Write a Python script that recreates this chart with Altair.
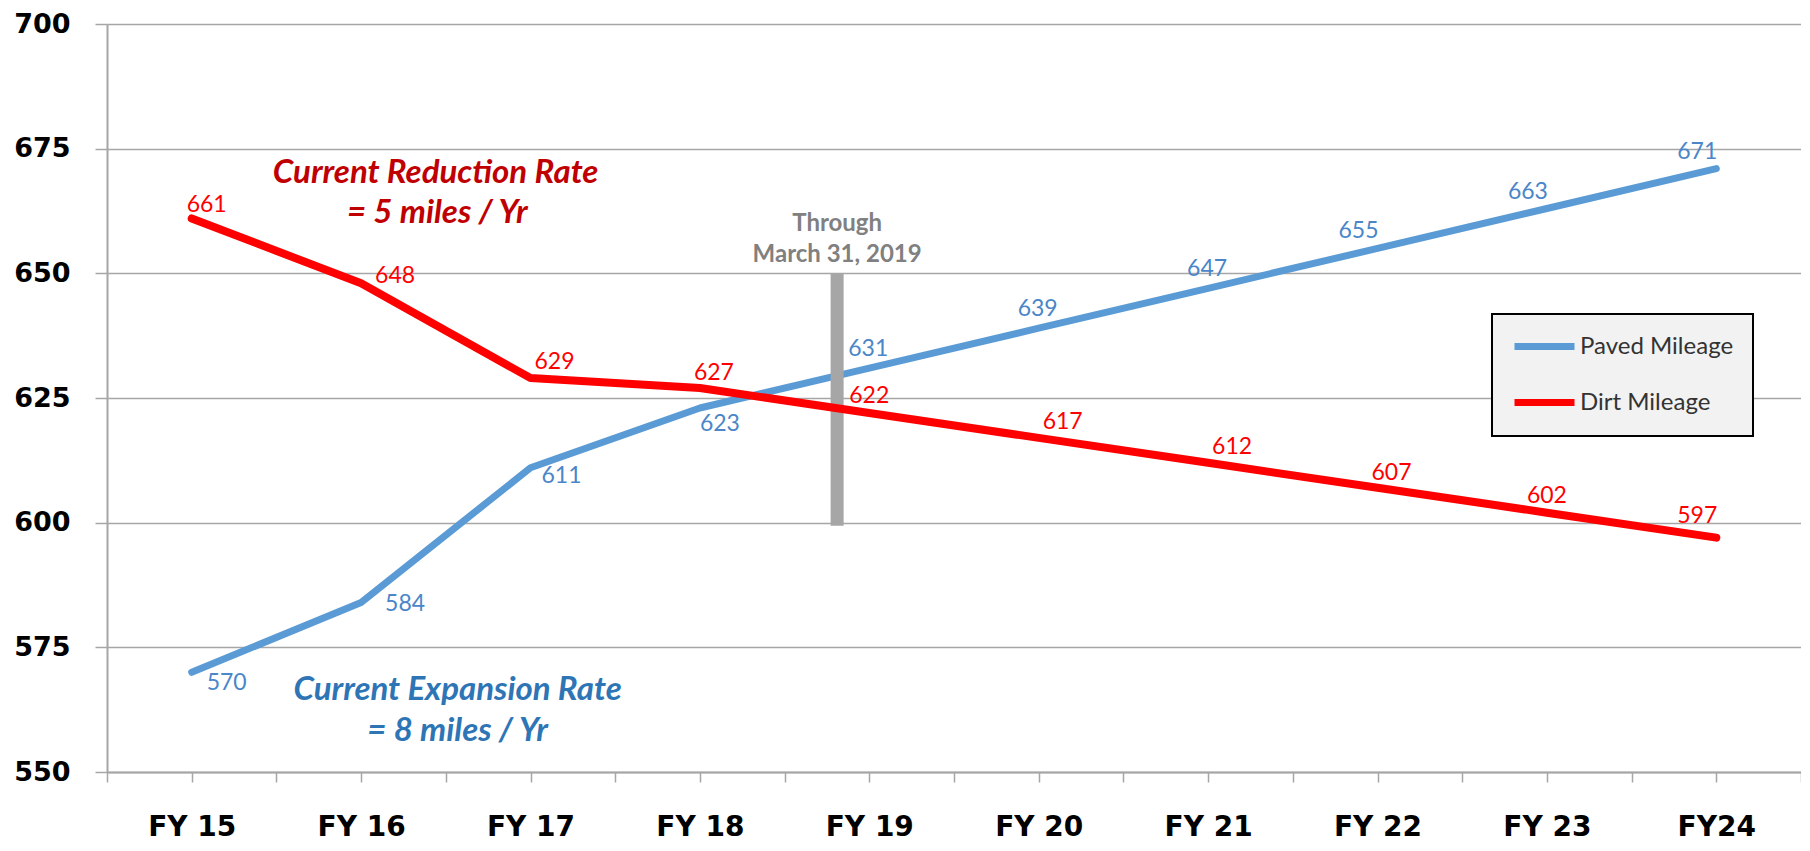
import json
import altair as alt
import pandas as pd

categories = ["FY 15", "FY 16", "FY 17", "FY 18", "FY 19", "FY 20", "FY 21", "FY 22", "FY 23", "FY24"]
paved = [570, 584, 611, 623, 631, 639, 647, 655, 663, 671]
dirt = [661, 648, 629, 627, 622, 617, 612, 607, 602, 597]
series_names = ["Paved Mileage", "Dirt Mileage"]
y_ticks = [550, 575, 600, 625, 650, 675, 700]

# marker of "Through March 31, 2019" (position on the category axis, value range)
marker_x = [3.81]
marker_top = [650]
marker_bottom = [599.4]
marker_text = ["Through", "March 31, 2019"]
marker_text_y = [659.9, 653.7]

red_note = ["Current Reduction Rate", "= 5 miles / Yr"]
red_note_x = [1.44, 1.45]
red_note_y = [670.1, 662.1]
blue_note = ["Current Expansion Rate", "= 8 miles / Yr"]
blue_note_x = [1.57, 1.57]
blue_note_y = [566.4, 558.3]

BLUE = "#5B9BD5"
RED = "#FF0000"
GRID = "#A6A6A6"

idx = list(range(len(categories)))
df_p = pd.DataFrame({"idx": idx, "cat": categories, "value": paved, "series": series_names[0]})
df_d = pd.DataFrame({"idx": idx, "cat": categories, "value": dirt, "series": series_names[1]})

label_expr = "datum.value % 1 == 0 ? " + json.dumps(categories) + "[datum.value] : ''"

x_enc = alt.X(
    "idx:Q",
    scale=alt.Scale(domain=[-0.5, 9.5], nice=False, zero=False),
    axis=alt.Axis(
        values=[i * 0.5 - 0.5 for i in range(21)],
        labelExpr=label_expr,
        grid=False,
        title=None,
        tickSize=10,
        tickColor=GRID,
        tickWidth=1.5,
        domainColor=GRID,
        domainWidth=2,
        labelFont="DejaVu Sans",
        labelFontWeight="bold",
        labelFontSize=28,
        labelColor="#000000",
        labelPadding=31,
        labelOverlap=False,
        labelFlush=False,
    ),
)
y_enc = alt.Y(
    "value:Q",
    scale=alt.Scale(domain=[550, 700], nice=False, zero=False),
    axis=alt.Axis(
        values=y_ticks,
        grid=True,
        gridColor=GRID,
        gridWidth=1.5,
        title=None,
        tickSize=12,
        tickColor=GRID,
        tickWidth=1.5,
        domainColor=GRID,
        domainWidth=2,
        labelFont="DejaVu Sans",
        labelFontWeight="bold",
        labelFontSize=27,
        labelColor="#000000",
        labelPadding=25,
    ),
)

color_enc = alt.Color(
    "series:N",
    scale=alt.Scale(domain=series_names, range=[BLUE, RED]),
    legend=alt.Legend(
        title=None,
        orient="none",
        legendX=1385,
        legendY=290,
        fillColor="#F2F2F2",
        strokeColor="#000000",
        padding=19,
        symbolType="M-1,0H5",
        symbolSize=400,
        symbolStrokeWidth=7,
        labelFont="Lato",
        labelFontSize=24,
        labelColor="#333333",
        labelOffset=42,
        rowPadding=27,
        cornerRadius=0,
    ),
)

base_p = alt.Chart(df_p)
base_d = alt.Chart(df_d)

bar_df = pd.DataFrame({"x": marker_x, "top": marker_top, "bottom": marker_bottom})
bar = alt.Chart(bar_df).mark_rule(color=GRID, strokeWidth=13).encode(
    x=alt.X("x:Q"), y=alt.Y("top:Q"), y2="bottom:Q"
)
through_df = pd.DataFrame({"t": marker_text, "x": marker_x * 2, "y": marker_text_y})
through = alt.Chart(through_df).mark_text(
    font="Lato", fontWeight="bold", fontSize=24, color="#808080", align="center", baseline="middle"
).encode(x="x:Q", y="y:Q", text="t:N")

line_p = base_p.mark_line(strokeWidth=7, strokeCap="round", strokeJoin="round").encode(
    x=x_enc, y=y_enc, color=color_enc
)
line_d = base_d.mark_line(strokeWidth=8, strokeCap="round", strokeJoin="round").encode(
    x="idx:Q", y="value:Q", color=alt.Color("series:N")
)

lab_style = dict(font="Lato", fontSize=23, baseline="middle", align="center")

# label placement groups: (category indices, dx, dy)
paved_groups = [([0], 35, 11), ([1], 44, 2), ([2], 31, 8), ([3], 20, 16),
                ([4, 5, 6], -1, -19), ([7, 8, 9], -19, -17)]
dirt_groups = [([0], 15, -13), ([1], 34, -7), ([2, 5, 6], 24, -16), ([3, 7], 14, -15),
               ([4, 8], 0, -17), ([9], -19, -22)]

label_layers = []
for ids, ddx, ddy in paved_groups:
    label_layers.append(
        base_p.transform_filter(alt.FieldOneOfPredicate(field="idx", oneOf=ids))
        .mark_text(color="#4A86C8", dx=ddx, dy=ddy, **lab_style)
        .encode(x="idx:Q", y="value:Q", text="value:Q")
    )
for ids, ddx, ddy in dirt_groups:
    label_layers.append(
        base_d.transform_filter(alt.FieldOneOfPredicate(field="idx", oneOf=ids))
        .mark_text(color=RED, dx=ddx, dy=ddy, **lab_style)
        .encode(x="idx:Q", y="value:Q", text="value:Q")
    )

red_df = pd.DataFrame({"t": red_note, "x": red_note_x, "y": red_note_y})
red_txt = alt.Chart(red_df).mark_text(
    font="Lato", fontWeight="bold", fontStyle="italic", fontSize=33, color="#C00000",
    align="center", baseline="middle",
).encode(x="x:Q", y="y:Q", text="t:N")
blue_df = pd.DataFrame({"t": blue_note, "x": blue_note_x, "y": blue_note_y})
blue_txt = alt.Chart(blue_df).mark_text(
    font="Lato", fontWeight="bold", fontStyle="italic", fontSize=33, color="#2E75B6",
    align="center", baseline="middle",
).encode(x="x:Q", y="y:Q", text="t:N")

chart = alt.layer(
    line_p, bar, through, line_d, *label_layers, red_txt, blue_txt
).properties(
    width=1694,
    height=748,
    padding={"left": 99, "top": 16, "right": 0, "bottom": 70},
    autosize=alt.AutoSizeParams(type="none"),
    background="#FFFFFF",
).configure_view(stroke=None).configure_legend(strokeWidth=2)

chart.save("out.html", embed_options={"renderer": "svg", "actions": False})
